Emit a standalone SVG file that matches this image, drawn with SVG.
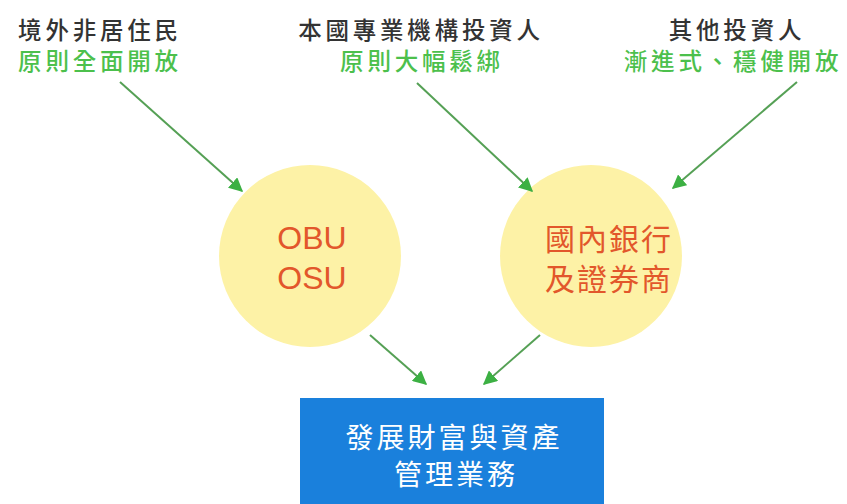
<svg xmlns="http://www.w3.org/2000/svg" width="847" height="504" viewBox="0 0 847 504">
<defs>
<marker id="ah" viewBox="0 0 10 10" refX="9" refY="5" markerWidth="7" markerHeight="7" markerUnits="strokeWidth" orient="auto">
<path d="M0,0 L10,5 L0,10 z" fill="#3cb043"/>
</marker>
<style>
.t{font-family:"Noto Sans CJK TC","Noto Sans CJK SC",sans-serif;font-size:23.5px;font-weight:500;letter-spacing:3.8px;text-anchor:middle}
.dark{fill:#333333}
.green{fill:#4cc04c}
.circ{fill:#fdf2a6}
.ct{font-family:"Liberation Sans","Noto Sans CJK TC",sans-serif;font-size:32px;fill:#e2572b;text-anchor:middle}
.cc{font-family:"Noto Sans CJK TC",sans-serif;font-size:30px;letter-spacing:2px;fill:#e2572b;text-anchor:middle}
.bt{font-family:"Noto Sans CJK TC",sans-serif;font-size:28px;letter-spacing:3px;fill:#ffffff;text-anchor:middle}
.arr{stroke:#55a055;stroke-width:2;fill:none;marker-end:url(#ah)}
</style>
</defs>
<rect width="847" height="504" fill="#ffffff"/>
<g id="src1">
<text class="t dark" x="100" y="39">境外非居住民</text>
<text class="t green" x="100" y="70">原則全面開放</text>
</g>
<g id="src2">
<text class="t dark" x="421" y="39">本國專業機構投資人</text>
<text class="t green" x="422" y="70">原則大幅鬆綁</text>
</g>
<g id="src3">
<text class="t dark" x="737" y="39">其他投資人</text>
<text class="t green" x="733" y="70">漸進式、穩健開放</text>
</g>
<g id="obu">
<circle class="circ" cx="310" cy="256" r="91"/>
<text class="ct" x="312" y="249">OBU</text>
<text class="ct" x="312" y="289">OSU</text>
</g>
<g id="bank">
<circle class="circ" cx="591" cy="256" r="91"/>
<text class="cc" x="609" y="250">國內銀行</text>
<text class="cc" x="609" y="290">及證券商</text>
</g>
<g id="wealth">
<rect x="300" y="398" width="304" height="110" fill="#1a80dc"/>
<text class="bt" x="454" y="448">發展財富與資產</text>
<text class="bt" x="456" y="485">管理業務</text>
</g>
<g id="connectors">
<line class="arr" x1="120" y1="82" x2="242" y2="191"/>
<line class="arr" x1="417" y1="83" x2="532" y2="191"/>
<line class="arr" x1="797" y1="82" x2="673" y2="188"/>
<line class="arr" x1="370" y1="335" x2="426" y2="384"/>
<line class="arr" x1="540" y1="335" x2="484" y2="384"/>
</g>
</svg>
